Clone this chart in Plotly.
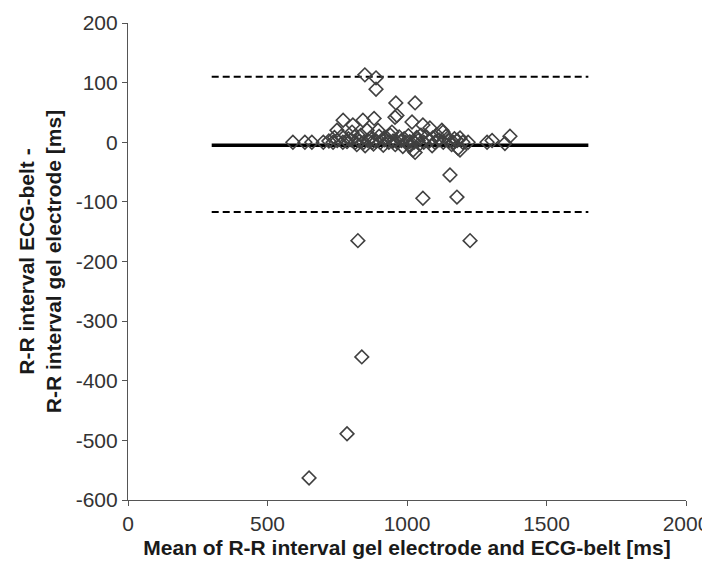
import plotly.graph_objects as go

# Bland-Altman data (ms)
mean_rr = [591, 634, 659, 700, 720, 735, 750, 770, 785, 800, 815, 830, 845, 860, 875,
           890, 905, 920, 935, 950, 965, 980, 995, 1010, 1025, 1040, 1060, 1080, 1100,
           1115, 1130, 1150, 1165, 1180, 1200, 1219, 1287, 1305, 1351, 1369,
           740, 765, 790, 812, 835, 868, 900, 925, 940, 972, 990, 1005, 1035, 1050,
           1070, 1092, 1108, 1140, 1170,
           820, 850, 880, 915, 958, 985, 1012, 1045, 1090, 1160,
           749, 771, 803, 806, 842, 857, 882, 896, 946, 957, 960, 1018, 1029, 1057,
           1082, 1125, 1129, 1190, 849, 889, 889, 964,
           1022, 1029, 1190, 1183, 1154, 1057, 1179, 1226, 824, 838, 785, 649]
diff_rr = [0, 0, 0, 0, 2, 0, 3, 0, 1, 4, 0, 2, 0, 3, 0,
           2, 0, 4, 0, 2, 0, 3, 0, 1, 0, 3, 0, 2, 0,
           4, 0, 2, 0, 3, 0, 0, 0, 3, -2, 10,
           8, 10, 6, 9, 12, 7, 10, 8, 12, 9, 6, 11, 8, 12,
           9, 7, 12, 10, 6,
           -4, -6, -3, -5, -4, -7, -5, -3, -6, -4,
           20, 37, 17, 29, 37, 20, 40, 20, 17, 42, 66, 34, 66, 29,
           24, 20, 17, 7, 113, 108, 89, 45,
           -13, -17, -13, -10, -55, -94, -92, -165, -165, -360, -489, -563]

# Reference lines: bias and limits of agreement
line_x = [300, 1650]
bias = -5
upper_loa = 110
lower_loa = -117

x_ticks = [0, 500, 1000, 1500, 2000]
x_tick_labels = ["0", "500", "1000", "1500", "2000"]
y_ticks = [200, 100, 0, -100, -200, -300, -400, -500, -600]
y_tick_labels = ["200", "100", "0", "-100", "-200", "-300", "-400", "-500", "-600"]

fig = go.Figure()
fig.add_trace(go.Scatter(x=line_x, y=[upper_loa, upper_loa], mode="lines",
                         line=dict(color="black", width=2, dash="7px,4px"),
                         hoverinfo="skip", showlegend=False))
fig.add_trace(go.Scatter(x=line_x, y=[lower_loa, lower_loa], mode="lines",
                         line=dict(color="black", width=2, dash="7px,4px"),
                         hoverinfo="skip", showlegend=False))
fig.add_trace(go.Scatter(x=line_x, y=[bias, bias], mode="lines",
                         line=dict(color="black", width=3.5),
                         hoverinfo="skip", showlegend=False))
fig.add_trace(go.Scatter(x=mean_rr, y=diff_rr, mode="markers",
                         marker=dict(symbol="diamond-open", size=10.5, color="#404040",
                                     line=dict(width=1.6, color="#404040")),
                         showlegend=False))

font_family = "Liberation Sans, Arial, sans-serif"
fig.update_layout(
    width=702, height=562,
    margin=dict(l=120, r=24, t=15, b=70),
    paper_bgcolor="white", plot_bgcolor="white",
    font=dict(family=font_family, size=21, color="#333333"),
    xaxis=dict(range=[0, 2000], tickvals=x_ticks, ticktext=x_tick_labels,
               showgrid=False, zeroline=False,
               showline=True, linecolor="#555555", linewidth=1.2,
               ticks="outside", ticklen=5, tickcolor="#555555", automargin=False,
               title=dict(text="<b>Mean of R-R interval gel electrode and ECG-belt [ms]</b>",
                          font=dict(size=21, color="#1a1a1a"), standoff=6)),
    yaxis=dict(range=[-600, 200], tickvals=y_ticks, ticktext=y_tick_labels,
               showgrid=False, zeroline=False,
               showline=True, linecolor="#555555", linewidth=1.2,
               ticks="outside", ticklen=5, tickcolor="#555555", automargin=False,
               title=dict(text="<b>R-R interval ECG-belt -<br>R-R interval gel electrode [ms]</b>",
                          font=dict(size=21, color="#1a1a1a"), standoff=8)),
)
fig.write_html("out.html")
